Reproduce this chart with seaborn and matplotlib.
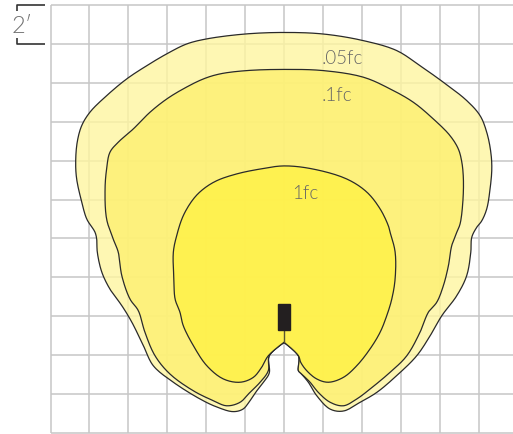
import numpy as np
import pandas as pd
import matplotlib
matplotlib.use('Agg')
import matplotlib.pyplot as plt
import seaborn as sns
from matplotlib.patches import Rectangle

# isofootcandle outlines, feet from fixture centreline (x) and from floor line (y)
fc005_x = [0, -0.76, -0.76, -1.06, -1.40, -1.75, -2.11, -2.62, -3.46, -4.32, -5.69, -6.72, -7.23, -7.83,
           -8.34, -8.95, -9.37, -9.60, -9.63, -9.72, -10.14, -10.40, -10.66, -10.71, -10.63, -10.40, -9.97,
           -9.12, -8.09, -7.06, -6.03, -5.00, -3.97, -2.01, 0, 2.02, 4.08, 5.79, 6.99, 8.19, 9.39, 10.08,
           10.42, 10.63, 10.68, 10.59, 10.42, 10.16, 9.91, 9.65, 9.60, 9.39, 8.88, 8.11, 7.51, 6.82, 5.79,
           4.77, 3.91, 3.05, 2.37, 1.68, 1.25, 0.82, 0.74, 0.74, 0]
fc005_y = [4.66, 3.97, 3.08, 2.61, 2.17, 1.66, 1.23, 1.10, 1.34, 1.75, 2.61, 3.46, 4.49, 5.71,
           6.55, 7.40, 8.28, 9.31, 9.97, 10.33, 11.00, 11.88, 13.06, 13.93, 14.96, 15.80, 16.50,
           17.34, 18.20, 18.88, 19.49, 20.00, 20.26, 20.51, 20.59, 20.51, 20.17, 19.66, 18.88, 18.03, 17.09, 16.31,
           15.46, 14.43, 13.57, 12.54, 11.52, 10.90, 10.58, 10.06, 9.29, 8.09, 7.06, 6.03, 5.00, 3.97, 2.95,
           2.09, 1.58, 1.13, 1.23, 1.92, 2.61, 3.12, 3.20, 3.97, 4.66]

fc01_x = [0, -0.76, -0.81, -1.23, -1.75, -2.26, -2.95, -3.63, -4.66, -5.86, -6.63, -7.15, -7.49, -7.92,
          -8.34, -8.52, -8.78, -9.12, -9.20, -9.12, -8.95, -8.52, -7.75, -6.89, -6.03, -5.18, -4.15, -3.29,
          -1.92, 0, 2.02, 4.08, 5.45, 6.65, 7.68, 8.53, 8.96, 9.14, 9.22, 9.19, 9.05, 8.88, 8.62, 8.45,
          8.19, 7.85, 7.42, 6.99, 6.31, 5.45, 4.42, 3.74, 3.05, 2.37, 1.76, 1.34, 0.91, 0.74, 0.74, 0]
fc01_y = [4.66, 3.97, 3.20, 2.61, 2.09, 1.58, 1.40, 1.66, 2.17, 3.03, 3.97, 5.18, 6.29, 6.89,
          8.09, 9.29, 9.97, 11.00, 12.54, 13.57, 14.43, 14.95, 15.63, 16.49, 17.17, 17.69, 18.20, 18.46,
          18.63, 18.69, 18.63, 18.29, 17.69, 17.00, 16.14, 15.29, 14.60, 13.92, 13.06, 11.86, 10.75, 10.32, 9.63, 8.60,
          7.57, 6.72, 6.21, 5.18, 3.97, 3.12, 2.26, 1.75, 1.40, 1.58, 2.09, 2.61, 3.03, 3.20, 3.97, 4.66]

fc1_x = [0, -0.81, -1.15, -1.58, -2.26, -3.12, -3.97, -4.66, -5.18, -5.35, -5.60, -5.66, -5.69, -5.52,
         -5.18, -4.66, -4.15, -3.46, -2.43, -1.23, 0, 1.49, 3.22, 4.25, 4.94, 5.36, 5.45, 5.71, 5.71,
         5.54, 5.28, 4.94, 4.42, 3.74, 3.05, 2.28, 1.68, 1.17, 0.86, 0.74, 0]
fc1_y = [4.66, 3.97, 3.38, 2.86, 2.61, 2.78, 3.46, 4.49, 5.52, 6.21, 6.89, 7.92, 9.29, 10.14,
         11.17, 12.03, 12.54, 12.97, 13.32, 13.57, 13.73, 13.57, 13.06, 12.39, 11.52, 10.66, 10.33, 9.31, 7.92,
         6.89, 6.03, 5.18, 4.32, 3.46, 2.86, 2.61, 2.78, 3.20, 3.63, 3.97, 4.66]

levels = ['.05fc', '.1fc', '1fc']
level_colors = ['#fef5a0', '#fdf070', '#fff145']
label_x = [1.95, 1.95, 0.41]
label_y = [19.28, 17.38, 12.34]

fixture_center = (0.0, 5.97)
fixture_size = (0.60, 1.32)
grid_step = 2


def smooth(xs, ys, n=12):
    # centripetal catmull-rom through the traced points, only for drawing
    pts = np.column_stack([xs, ys])
    out = [pts[0]]
    for i in range(len(pts) - 1):
        p0 = pts[i - 1] if i > 0 else pts[i]
        p1, p2 = pts[i], pts[i + 1]
        p3 = pts[i + 2] if i + 2 < len(pts) else pts[i + 1]
        t0 = 0.0
        t1 = t0 + max(np.linalg.norm(p1 - p0), 1e-6) ** 0.5
        t2 = t1 + max(np.linalg.norm(p2 - p1), 1e-6) ** 0.5
        t3 = t2 + max(np.linalg.norm(p3 - p2), 1e-6) ** 0.5
        for t in np.linspace(t1, t2, n)[1:]:
            a1 = (t1 - t) / (t1 - t0) * p0 + (t - t0) / (t1 - t0) * p1
            a2 = (t2 - t) / (t2 - t1) * p1 + (t - t1) / (t2 - t1) * p2
            a3 = (t3 - t) / (t3 - t2) * p2 + (t - t2) / (t3 - t2) * p3
            b1 = (t2 - t) / (t2 - t0) * a1 + (t - t0) / (t2 - t0) * a2
            b2 = (t3 - t) / (t3 - t1) * a2 + (t - t1) / (t3 - t1) * a3
            out.append((t2 - t) / (t2 - t1) * b1 + (t - t1) / (t2 - t1) * b2)
    out = np.array(out)
    return out[:, 0], out[:, 1]


sns.set_style('white')
plt.rcParams['font.family'] = ['Lato', 'DejaVu Sans']

fig = plt.figure(figsize=(5.13, 4.35), dpi=100)
ax = fig.add_axes([0, 0, 1, 1])
ax.set_xlim(-14.60, 11.77)
ax.set_ylim(-0.05, 22.31)
ax.axis('off')

# grid
gx = np.arange(-12, 11, grid_step)
gy = np.arange(0, 23, grid_step)
ax.vlines(gx, 0, 22, color='#c6c6c6', lw=1.1, zorder=0)
ax.hlines(gy, -12, 11.77, color='#c6c6c6', lw=1.1, zorder=0)

outlines = [(fc005_x, fc005_y), (fc01_x, fc01_y), (fc1_x, fc1_y)]
for i, (xs, ys) in enumerate(outlines):
    sx, sy = smooth(xs, ys)
    df = pd.DataFrame({'x': sx, 'y': sy})
    ax.fill(df['x'], df['y'], color=level_colors[i], alpha=0.8, lw=0, zorder=1 + i)
    sns.lineplot(data=df, x='x', y='y', sort=False, estimator=None, color='#2a2a2a',
                 lw=0.9, ax=ax, zorder=1 + i)
    ax.text(label_x[i], label_y[i], levels[i], ha='left', va='center', fontsize=13.5,
            fontweight=300, color='#666666', zorder=6)

# fixture
fw, fh = fixture_size
fx, fy = fixture_center
ax.plot([fx, fx], [fy - fh / 2, 4.66], color='#5a5530', lw=1, zorder=5)
ax.add_patch(Rectangle((fx - fw / 2, fy - fh / 2), fw, fh, color='#231f20', zorder=6))

# scale bracket
bx0, bx1 = -13.73, -12.29
ax.plot([bx0, bx0, bx1], [21.70, 22.0, 22.0], color='#333333', lw=1.2, solid_capstyle='butt')
ax.plot([bx0, bx0, bx1], [20.30, 20.0, 20.0], color='#333333', lw=1.2, solid_capstyle='butt')
ax.text(-13.45, 20.95, '2\u2032', ha='center', va='center', fontsize=17, fontweight=300,
        color='#707070')

ax.set_xlabel('')
ax.set_ylabel('')
fig.savefig('out.png', dpi=100)
